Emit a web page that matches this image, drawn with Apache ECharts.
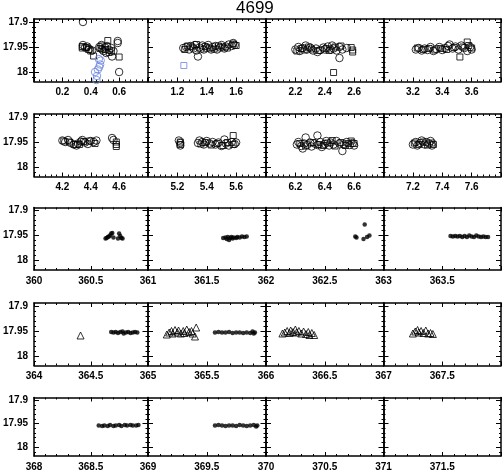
<!DOCTYPE html>
<html>
<head>
<meta charset="utf-8">
<script src="https://cdn.jsdelivr.net/npm/echarts@6/dist/echarts.min.js"></script>
<style>
html, body { margin: 0; padding: 0; background: #fff; }
#chart { width: 503px; height: 472px; }
</style>
</head>
<body>
<div id="chart"></div>
<script>
// 标题和面板
const title = '4699'
const panelStarts = [0, 1, 2, 3, 4, 5, 6, 7, 360, 361, 362, 363, 364, 365, 366, 367, 368, 369, 370, 371]
const panelSpans = [0.8, 0.8, 0.8, 0.8, 0.8, 0.8, 0.8, 0.8, 1, 1, 1, 1, 1, 1, 1, 1, 1, 1, 1, 1]
const xTickLabels = [
  [0.2, 0.4, 0.6], [1.2, 1.4, 1.6], [2.2, 2.4, 2.6], [3.2, 3.4, 3.6],
  [4.2, 4.4, 4.6], [5.2, 5.4, 5.6], [6.2, 6.4, 6.6], [7.2, 7.4, 7.6],
  [360, 360.5], [361, 361.5], [362, 362.5], [363, 363.5],
  [364, 364.5], [365, 365.5], [366, 366.5], [367, 367.5],
  [368, 368.5], [369, 369.5], [370, 370.5], [371, 371.5]
]
const yTickLabels = [17.9, 17.95, 18]
const yMin = 17.894
const yMax = 18.019

// 数据点
const circles = [
  [0.345, 17.900], [0.345, 17.946], [0.36, 17.951], [0.375, 17.949], [0.39, 17.954], [0.41, 17.957],
  [0.46, 17.950], [0.475, 17.946], [0.48, 17.955], [0.49, 17.958], [0.50, 17.951], [0.51, 17.962],
  [0.515, 17.948], [0.53, 17.956], [0.545, 17.952], [0.55, 17.969], [0.56, 17.958],
  [0.59, 17.938], [0.59, 17.942], [0.60, 18.000],
  [1.24, 17.952], [1.26, 17.950], [1.28, 17.955], [1.29, 17.948], [1.31, 17.953], [1.32, 17.946],
  [1.33, 17.957], [1.34, 17.969], [1.35, 17.951], [1.37, 17.947], [1.38, 17.955], [1.40, 17.952],
  [1.41, 17.946], [1.43, 17.955], [1.44, 17.950], [1.46, 17.948], [1.47, 17.955], [1.49, 17.951],
  [1.50, 17.946], [1.52, 17.953], [1.53, 17.949], [1.55, 17.945], [1.57, 17.948], [1.58, 17.942], [1.59, 17.946],
  [2.20, 17.955], [2.22, 17.950], [2.23, 17.958], [2.25, 17.952], [2.27, 17.947], [2.28, 17.955],
  [2.30, 17.951], [2.32, 17.957], [2.34, 17.953], [2.35, 17.960], [2.37, 17.956], [2.39, 17.951],
  [2.40, 17.955], [2.42, 17.949], [2.44, 17.955], [2.45, 17.947], [2.46, 17.953], [2.48, 17.957],
  [2.50, 17.972], [2.50, 17.950], [2.52, 17.955], [2.55, 17.952],
  [3.22, 17.955], [3.24, 17.952], [3.26, 17.957], [3.28, 17.953], [3.30, 17.956], [3.32, 17.950],
  [3.34, 17.958], [3.36, 17.954], [3.38, 17.950], [3.40, 17.956], [3.42, 17.952], [3.44, 17.948],
  [3.45, 17.945], [3.47, 17.953], [3.49, 17.949], [3.51, 17.955], [3.53, 17.947], [3.55, 17.952],
  [3.57, 17.958], [3.59, 17.950], [3.60, 17.955],
  [4.20, 17.947], [4.22, 17.950], [4.24, 17.946], [4.26, 17.952], [4.28, 17.955], [4.30, 17.957],
  [4.31, 17.953], [4.33, 17.949], [4.34, 17.946], [4.36, 17.951], [4.38, 17.954], [4.40, 17.948],
  [4.42, 17.950], [4.44, 17.947], [4.55, 17.942], [4.56, 17.946],
  [5.21, 17.947], [5.22, 17.952], [5.22, 17.957], [5.34, 17.952], [5.35, 17.947], [5.37, 17.950],
  [5.38, 17.955], [5.40, 17.948], [5.42, 17.953], [5.44, 17.950], [5.46, 17.955], [5.48, 17.951],
  [5.50, 17.958], [5.52, 17.945], [5.53, 17.953], [5.55, 17.957], [5.57, 17.950], [5.59, 17.954], [5.60, 17.951],
  [6.21, 17.955], [6.22, 17.950], [6.24, 17.958], [6.25, 17.963], [6.26, 17.953], [6.27, 17.941],
  [6.28, 17.956], [6.30, 17.951], [6.31, 17.959], [6.33, 17.953], [6.35, 17.937], [6.35, 17.956],
  [6.37, 17.950], [6.38, 17.960], [6.40, 17.954], [6.41, 17.948], [6.43, 17.957], [6.44, 17.951],
  [6.46, 17.955], [6.48, 17.948], [6.50, 17.953], [6.52, 17.968], [6.53, 17.955], [6.55, 17.950],
  [6.57, 17.956], [6.59, 17.952], [6.60, 17.957],
  [7.20, 17.955], [7.22, 17.950], [7.23, 17.957], [7.25, 17.952], [7.26, 17.947], [7.28, 17.955],
  [7.29, 17.950], [7.31, 17.953], [7.32, 17.948], [7.33, 17.957]
]
const squares = [
  [0.34, 17.949], [0.34, 17.952], [0.37, 17.951], [0.385, 17.955], [0.40, 17.958], [0.42, 17.968],
  [0.465, 17.953], [0.48, 17.948], [0.50, 17.955], [0.52, 17.937], [0.53, 17.961], [0.545, 17.958], [0.60, 17.970],
  [1.25, 17.955], [1.27, 17.948], [1.30, 17.950], [1.33, 17.945], [1.36, 17.954], [1.39, 17.949],
  [1.42, 17.952], [1.45, 17.954], [1.48, 17.948], [1.51, 17.950], [1.54, 17.952], [1.58, 17.944], [1.60, 17.947],
  [2.21, 17.958], [2.24, 17.953], [2.26, 17.956], [2.29, 17.950], [2.31, 17.954], [2.36, 17.957],
  [2.41, 17.953], [2.43, 17.957], [2.46, 18.001], [2.47, 17.950], [2.51, 17.948], [2.58, 17.951],
  [2.59, 17.956], [2.59, 17.960],
  [3.23, 17.952], [3.27, 17.955], [3.31, 17.953], [3.35, 17.956], [3.39, 17.953], [3.43, 17.955],
  [3.48, 17.951], [3.52, 17.970], [3.54, 17.950], [3.57, 17.940], [3.58, 17.947], [3.60, 17.952],
  [4.21, 17.948], [4.25, 17.950], [4.29, 17.955], [4.32, 17.955], [4.35, 17.949], [4.39, 17.948],
  [4.43, 17.953], [4.58, 17.950], [4.58, 17.955], [4.58, 17.959],
  [5.22, 17.950], [5.22, 17.955], [5.36, 17.954], [5.39, 17.951], [5.43, 17.956], [5.47, 17.953],
  [5.51, 17.957], [5.54, 17.951], [5.58, 17.937], [5.58, 17.955],
  [6.23, 17.953], [6.27, 17.958], [6.32, 17.951], [6.36, 17.955], [6.39, 17.957], [6.42, 17.952],
  [6.45, 17.947], [6.47, 17.958], [6.51, 17.951], [6.54, 17.957], [6.56, 17.953], [6.58, 17.948], [6.60, 17.953],
  [7.21, 17.952], [7.24, 17.955], [7.27, 17.950], [7.30, 17.956], [7.33, 17.952], [7.34, 17.955]
]
const blueCircles = [
  [0.457, 17.974], [0.47, 17.977], [0.466, 17.985], [0.46, 17.990], [0.45, 17.995],
  [0.43, 18.000], [0.444, 18.008], [0.44, 18.016]
]
const blueSquares = [
  [1.244, 17.987]
]
const dots = [
  [360.63, 17.956], [360.64, 17.955], [360.65, 17.953], [360.66, 17.952], [360.67, 17.950],
  [360.68, 17.946], [360.69, 17.945], [360.70, 17.954], [360.74, 17.956], [360.75, 17.946],
  [360.76, 17.951], [360.77, 17.955], [360.78, 17.956],
  [361.64, 17.955], [361.66, 17.954], [361.67, 17.957], [361.68, 17.953], [361.69, 17.959],
  [361.70, 17.955], [361.71, 17.953], [361.72, 17.956], [361.73, 17.954], [361.75, 17.955],
  [361.76, 17.953], [361.78, 17.954], [361.80, 17.952], [361.82, 17.953], [361.84, 17.952],
  [362.76, 17.952], [362.77, 17.954], [362.84, 17.928], [362.83, 17.957], [362.86, 17.953], [362.88, 17.950],
  [363.57, 17.951], [363.59, 17.952], [363.61, 17.951], [363.63, 17.952], [363.65, 17.951],
  [363.67, 17.953], [363.69, 17.951], [363.71, 17.953], [363.73, 17.950], [363.75, 17.952],
  [363.77, 17.953], [363.79, 17.950], [363.81, 17.952], [363.83, 17.953], [363.85, 17.952],
  [363.87, 17.953], [363.89, 17.953],
  [364.68, 17.952], [364.70, 17.953], [364.72, 17.952], [364.74, 17.954], [364.76, 17.952],
  [364.78, 17.951], [364.79, 17.955], [364.81, 17.953], [364.83, 17.952], [364.85, 17.954],
  [364.87, 17.953], [364.89, 17.952], [364.91, 17.953],
  [365.57, 17.953], [365.60, 17.952], [365.63, 17.953], [365.66, 17.953], [365.69, 17.952],
  [365.72, 17.954], [365.75, 17.953], [365.78, 17.953], [365.81, 17.954], [365.84, 17.953],
  [365.87, 17.954], [365.89, 17.951], [365.90, 17.955], [365.91, 17.953],
  [368.57, 17.954], [368.60, 17.955], [368.62, 17.954], [368.65, 17.955], [368.67, 17.953],
  [368.70, 17.955], [368.72, 17.954], [368.75, 17.953], [368.77, 17.955], [368.80, 17.953],
  [368.82, 17.954], [368.85, 17.953], [368.87, 17.954], [368.90, 17.954], [368.92, 17.953],
  [369.57, 17.954], [369.60, 17.953], [369.63, 17.954], [369.66, 17.955], [369.69, 17.954],
  [369.72, 17.954], [369.75, 17.955], [369.78, 17.953], [369.81, 17.954], [369.84, 17.955],
  [369.87, 17.954], [369.90, 17.953], [369.92, 17.956], [369.93, 17.954]
]
const triangles = [
  [364.41, 17.959],
  [365.16, 17.957], [365.18, 17.953], [365.20, 17.950], [365.21, 17.955], [365.23, 17.948],
  [365.25, 17.953], [365.26, 17.949], [365.28, 17.955], [365.30, 17.950], [365.31, 17.954],
  [365.33, 17.947], [365.35, 17.952], [365.37, 17.950], [365.38, 17.955], [365.40, 17.961], [365.41, 17.943],
  [366.14, 17.955], [366.16, 17.953], [366.18, 17.950], [366.20, 17.954], [366.21, 17.949],
  [366.23, 17.952], [366.25, 17.947], [366.26, 17.953], [366.28, 17.950], [366.30, 17.955],
  [366.32, 17.951], [366.34, 17.956], [366.36, 17.952], [366.37, 17.958], [366.39, 17.954], [366.41, 17.958],
  [367.25, 17.955], [367.27, 17.951], [367.29, 17.948], [367.30, 17.953], [367.32, 17.950],
  [367.34, 17.954], [367.36, 17.949], [367.38, 17.955], [367.40, 17.954], [367.42, 17.956]
]

const chart = echarts.init(document.getElementById('chart'))

const colLeft = [30, 148, 266, 383.5]
const rowTop = [19, 114, 207.5, 303, 397.5]
const panelW = 117.5
const panelH = 62.5
const black = '#000'
const blue = '#6d85de'
const labelFont = { color: black, fontSize: 10, fontWeight: 'bold', fontFamily: 'Liberation Sans' }

// 生成刻度位置
const steps = (min, max, step) => {
  const out = []
  const n = Math.round((max - min) / step)
  for (let k = 0; k <= n; k++) out.push(+(min + k * step).toFixed(4))
  return out
}

const grids = []
const xAxes = []
const yAxes = []
const frame = { show: true, lineStyle: { color: black, width: 1.5 } }
const noLine = { show: false }

panelStarts.forEach((min, i) => {
  const col = i % 4
  const row = Math.floor(i / 4)
  grids.push({ left: colLeft[col], top: rowTop[row], width: panelW, height: panelH })
  const max = min + panelSpans[i]
  const short = panelSpans[i] < 1
  const majors = steps(min, max, short ? 0.2 : 0.5)
  const minors = steps(min, max, short ? 0.04 : 0.1)
  const xb = { type: 'value', gridIndex: i, min, max, splitLine: { show: false } }
  xAxes.push(
    { ...xb, position: 'bottom', axisLine: frame,
      axisTick: { inside: true, length: 4, customValues: majors, lineStyle: { color: black } },
      axisLabel: { ...labelFont, margin: 6, customValues: xTickLabels[i] } },
    { ...xb, position: 'bottom', axisLine: noLine,
      axisTick: { inside: true, length: 2, customValues: minors, lineStyle: { color: black } },
      axisLabel: { show: false } },
    { ...xb, position: 'top', axisLine: frame,
      axisTick: { inside: true, length: 4, customValues: majors, lineStyle: { color: black } },
      axisLabel: { show: false } },
    { ...xb, position: 'top', axisLine: noLine,
      axisTick: { inside: true, length: 2, customValues: minors, lineStyle: { color: black } },
      axisLabel: { show: false } }
  )
  const yb = { type: 'value', gridIndex: i, min: yMin, max: yMax, inverse: true, splitLine: { show: false } }
  const yMinors = steps(17.9, 18.01, 0.01)
  yAxes.push(
    { ...yb, position: 'left', axisLine: frame,
      axisTick: { inside: true, length: 5, customValues: yTickLabels, lineStyle: { color: black } },
      axisLabel: col === 0 ? { ...labelFont, margin: 6, customValues: yTickLabels } : { show: false } },
    { ...yb, position: 'left', axisLine: noLine,
      axisTick: { inside: true, length: 2, customValues: yMinors, lineStyle: { color: black } },
      axisLabel: { show: false } },
    { ...yb, position: 'right', axisLine: frame,
      axisTick: { inside: true, length: 5, customValues: yTickLabels, lineStyle: { color: black } },
      axisLabel: { show: false } },
    { ...yb, position: 'right', axisLine: noLine,
      axisTick: { inside: true, length: 2, customValues: yMinors, lineStyle: { color: black } },
      axisLabel: { show: false } }
  )
})

const panelOf = (x) => panelStarts.findIndex((s, i) => x >= s && x <= s + panelSpans[i])

const series = []
const addSeries = (points, symbol, size, itemStyle) => {
  const byPanel = {}
  points.forEach(p => {
    const i = panelOf(p[0])
    if (i < 0) return
    ;(byPanel[i] = byPanel[i] || []).push(p)
  })
  Object.keys(byPanel).forEach(i => {
    series.push({
      type: 'scatter', xAxisIndex: i * 4, yAxisIndex: i * 4,
      data: byPanel[i], symbol, symbolSize: size, itemStyle,
      silent: true, animation: false
    })
  })
}
const hollow = (c) => ({ color: 'rgba(0,0,0,0)', borderColor: c, borderWidth: 1 })

addSeries(circles, 'circle', 7.5, hollow(black))
addSeries(squares, 'rect', 6, hollow(black))
addSeries(blueCircles, 'circle', 7.5, hollow(blue))
addSeries(blueSquares, 'rect', 6, hollow(blue))
addSeries(triangles, 'triangle', 7, hollow(black))
addSeries(dots, 'circle', 4.5, { color: black })

chart.setOption({
  animation: false,
  graphic: [{
    type: 'text', left: 236, top: 0,
    style: { text: title, fill: black, fontSize: 17, fontFamily: 'Liberation Sans' }
  }],
  grid: grids,
  xAxis: xAxes,
  yAxis: yAxes,
  series
})
</script>
</body>
</html>
